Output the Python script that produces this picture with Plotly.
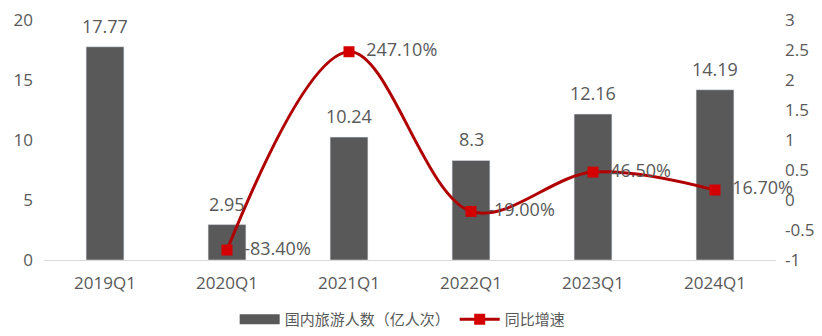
import plotly.graph_objects as go

categories = ["2019Q1", "2020Q1", "2021Q1", "2022Q1", "2023Q1", "2024Q1"]
visitors = [17.77, 2.95, 10.24, 8.3, 12.16, 14.19]
visitor_labels = ["17.77", "2.95", "10.24", "8.3", "12.16", "14.19"]
growth = [None, -0.834, 2.471, -0.19, 0.465, 0.167]
growth_labels = ["", "-83.40%", "247.10%", "-19.00%", "46.50%", "16.70%"]
left_ticks = [0, 5, 10, 15, 20]
right_ticks = [-1, -0.5, 0, 0.5, 1, 1.5, 2, 2.5, 3]
right_tick_labels = ["-1", "-0.5", "0", "0.5", "1", "1.5", "2", "2.5", "3"]

font_family = "Open Sans, Noto Sans CJK SC, sans-serif"
txt = "#595959"

fig = go.Figure()
fig.add_trace(go.Bar(
    x=categories, y=visitors, name="国内旅游人数（亿人次）", showlegend=False,
    marker_color="#595959",
))
# legend entry for the bars (wide rectangle swatch)
fig.add_trace(go.Scatter(
    x=[None], y=[None], name="国内旅游人数（亿人次）", mode="lines",
    line=dict(color="#595959", width=10),
))
fig.add_trace(go.Scatter(
    x=categories, y=growth, name="同比增速", yaxis="y2",
    mode="lines+markers+text", line=dict(color="#b00000", width=3, shape="spline", smoothing=1),
    marker=dict(symbol="square", size=11, color="#d40000"),
    text=["  " + t if t else "" for t in growth_labels], textposition="middle right",
    textfont=dict(size=18, color=txt, family=font_family), cliponaxis=False,
))

for c, v, lab in zip(categories, visitors, visitor_labels):
    fig.add_annotation(x=c, y=v, xref="x", yref="y", text=lab, showarrow=False,
                       yanchor="bottom", yshift=7,
                       font=dict(size=18, color=txt, family=font_family))

fig.update_layout(
    width=822, height=336, margin=dict(l=44, r=46, t=20, b=76, autoexpand=False),
    paper_bgcolor="white", plot_bgcolor="white",
    font=dict(family=font_family, color=txt, size=16),
    bargap=0.69, showlegend=True,
    legend=dict(orientation="h", x=0.49, xanchor="center", y=0.0, yref="container",
                yanchor="bottom", font=dict(size=15, color=txt), itemwidth=40,
                traceorder="normal"),
    xaxis=dict(showline=True, linecolor="#d9d9d9", linewidth=1, ticks="",
               tickfont=dict(size=17, color=txt), showgrid=False, ticklabelstandoff=8),
    yaxis=dict(range=[0, 20], tickvals=left_ticks, showgrid=False, zeroline=False,
               tickfont=dict(size=17, color=txt), ticklabelstandoff=10),
    yaxis2=dict(range=[-1, 3], tickvals=right_ticks, ticktext=right_tick_labels,
                overlaying="y", side="right", showgrid=False, zeroline=False,
                tickfont=dict(size=17, color=txt), ticklabelstandoff=8),
)

fig.write_html("out.html")
